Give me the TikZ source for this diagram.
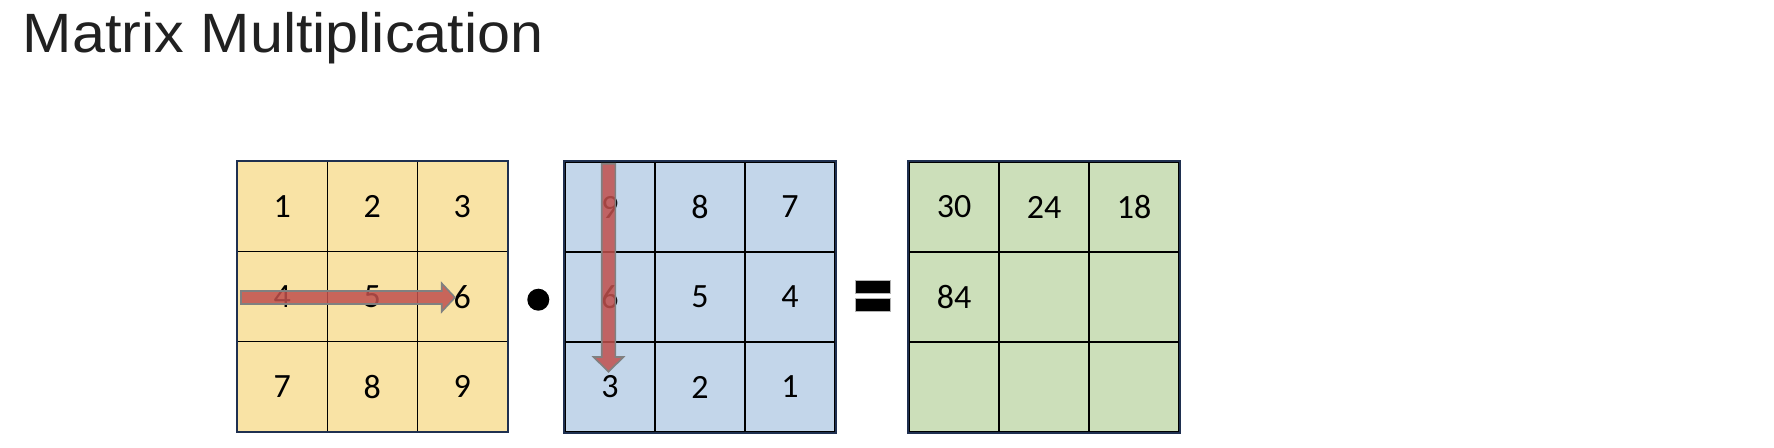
\documentclass[tikz,border=0pt]{standalone}
\usepackage{fontspec}
\setmainfont{Carlito}
\newfontfamily\titlefont{Liberation Sans}
\usetikzlibrary{calc}

\definecolor{cellyellow}{HTML}{F9E3A5}
\definecolor{cellblue}{HTML}{C3D6EA}
\definecolor{cellgreen}{HTML}{CCDFBA}
\definecolor{gridnavy}{HTML}{1F3050}
\definecolor{arrowred}{HTML}{C0504D}

\tikzset{
  cell/.style={draw=black, line width=0.7pt, minimum size=45pt, inner sep=0pt, font=\fontsize{17}{20}\selectfont},
  cellA/.style={cell, fill=cellyellow},
  cellB/.style={cell, fill=cellblue},
  cellC/.style={cell, fill=cellgreen},
  frame/.style={draw=gridnavy, line width=1pt},
  bigarrow/.style={fill=arrowred, fill opacity=0.85, draw=gray, line width=0.8pt},
}

\begin{document}
\begin{tikzpicture}[x=0.5pt, y=-0.5pt]
\useasboundingbox (0,0) rectangle (1774,448);
% Titre
\node[anchor=base west, inner sep=0pt, text=black!87, font=\titlefont\fontsize{27.7}{31}\selectfont] (titre) at (22.5,52.5) {\scalebox{1.07}[1]{Matrix Multiplication}};
% Matrice A
\node[cellA] (a11) at (282.3,206.7) {1};
\node[cellA] (a12) at (372.3,206.7) {2};
\node[cellA] (a13) at (462.3,206.7) {3};
\node[cellA] (a21) at (282.3,296.7) {4};
\node[cellA] (a22) at (372.3,296.7) {5};
\node[cellA] (a23) at (462.3,296.7) {6};
\node[cellA] (a31) at (282.3,386.7) {7};
\node[cellA] (a32) at (372.3,386.7) {8};
\node[cellA] (a33) at (462.3,386.7) {9};
\draw[frame] (a11.north west) rectangle (a33.south east);
% Matrice B
\node[cellB] (b11) at (610,207) {9};
\node[cellB] (b12) at (700,207) {8};
\node[cellB] (b13) at (790,207) {7};
\node[cellB] (b21) at (610,297) {6};
\node[cellB] (b22) at (700,297) {5};
\node[cellB] (b23) at (790,297) {4};
\node[cellB] (b31) at (610,387) {3};
\node[cellB] (b32) at (700,387) {2};
\node[cellB] (b33) at (790,387) {1};
\draw[frame] (b11.north west) rectangle (b33.south east);
% Matrice C
\node[cellC] (c11) at (954,207) {30};
\node[cellC] (c12) at (1044,207) {24};
\node[cellC] (c13) at (1134,207) {18};
\node[cellC] (c21) at (954,297) {84};
\node[cellC] (c22) at (1044,297) {};
\node[cellC] (c23) at (1134,297) {};
\node[cellC] (c31) at (954,387) {};
\node[cellC] (c32) at (1044,387) {};
\node[cellC] (c33) at (1134,387) {};
\draw[frame] (c11.north west) rectangle (c33.south east);
% Operateurs
\fill (538.3,299.7) circle (11);
\filldraw[fill=black, draw=gray!60, line width=0.4pt] (855,280) rectangle (890,293.3);
\filldraw[fill=black, draw=gray!60, line width=0.4pt] (855,298.3) rectangle (890,311.7);
% Fleches
\coordinate (ldebut) at ($(a21.west)+(4.4,0.8)$);
\coordinate (lfin) at ($(a23.center)+(-7.3,0.8)$);
\filldraw[bigarrow] ($(ldebut)+(0,-6.5)$) -- ($(lfin)+(-13.3,-6.5)$) -- ($(lfin)+(-13.3,-14.2)$) -- (lfin)
  -- ($(lfin)+(-13.3,14.2)$) -- ($(lfin)+(-13.3,6.5)$) -- ($(ldebut)+(0,6.5)$) -- cycle;
\coordinate (cdebut) at ($(b11.north)+(-1.5,2.5)$);
\coordinate (cfin) at ($(b31.center)+(-1.5,-15.3)$);
\filldraw[bigarrow] ($(cdebut)+(-6.8,0)$) -- ($(cfin)+(-6.8,-14.7)$) -- ($(cfin)+(-15,-14.7)$) -- (cfin)
  -- ($(cfin)+(15,-14.7)$) -- ($(cfin)+(6.8,-14.7)$) -- ($(cdebut)+(6.8,0)$) -- cycle;
\end{tikzpicture}
\end{document}
